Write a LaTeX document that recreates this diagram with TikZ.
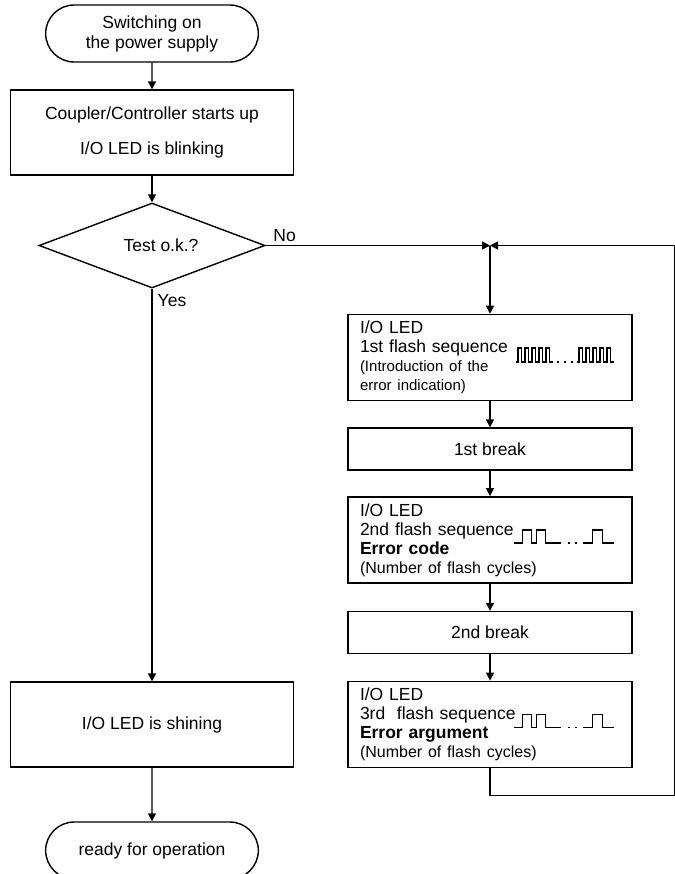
\documentclass[tikz,border=0pt]{standalone}
\usepackage{fontspec}
\setmainfont{Liberation Sans}
\usepackage{tikz}
\usetikzlibrary{positioning,shapes.geometric,shapes.misc,arrows.meta}
\newcommand{\mainf}{\fontsize{8.75pt}{10pt}\selectfont}
\newcommand{\ledf}{\fontsize{8.75pt}{9.5pt}\selectfont}
\newcommand{\smallf}{\fontsize{7.5pt}{9.5pt}\selectfont}
\newcommand{\numf}{\fontsize{8pt}{9.5pt}\selectfont}
\tikzstyle{term}=[draw, rounded rectangle, minimum width=113pt, minimum height=28.5pt, align=center, font=\mainf]
\tikzstyle{blk}=[draw, minimum width=141.5pt, minimum height=42.5pt, align=center, font=\mainf]
\tikzstyle{dec}=[draw, diamond, aspect=2.66, minimum width=113pt, minimum height=42.5pt, inner sep=0pt, font=\mainf]
\tikzstyle{brk}=[draw, minimum width=142pt, minimum height=21pt, font=\mainf]
\tikzstyle{led}=[draw, text width=130pt, inner xsep=6pt, minimum height=42.5pt, align=left, font=\ledf]
\tikzstyle{lbl}=[inner sep=0pt, font=\mainf]

\begin{document}
\begin{tikzpicture}[node distance=2cm,line width=0.7pt,>={Triangle[length=4pt,width=4pt]}]
\useasboundingbox (-76pt,16.75pt) rectangle (261.5pt,-420.25pt);

  \node[term] at (0,0) (start) {Switching on\\the power supply};
  \node[blk, below of = start, node distance = 49.5pt] (cpl) {Coupler/Controller starts up\\[7.5pt]I/O LED is blinking};
\draw[->] (start) -- (cpl);

  \node[dec, below of = cpl, node distance = 56.5pt] (test) {\hspace*{9pt}Test o.k.?};
\draw[->] (cpl) -- (test);

\node[lbl, anchor=south west] (no) at ([xshift=3.5pt,yshift=1.75pt]test.east) {No};
\node[lbl, anchor=north west] (yes) at ([xshift=2.5pt,yshift=-2.5pt]test.south) {Yes};

\node[blk, below of = test, node distance = 239.5pt] (shine) {I/O LED is shining};
\draw[->] (test) -- (shine);
\node[term, below of = shine, node distance = 63pt] (ready) {ready for operation};
\draw[->] (shine) -- (ready);

% error loop
\coordinate[right of = test, node distance = 169pt] (junc);
\coordinate[right of = junc, node distance = 92.4pt] (edge);
\draw[->] (test) -- (junc);

\node[led, below of = junc, node distance = 56pt] (flash1) {I/O LED\\1st flash sequence\\{\smallf (Introduction of the}\\{\smallf error indication)}};
\draw[->] (junc) -- (flash1);
\draw ([xshift=84.5pt,yshift=-2.25pt]flash1.west) -- ++(0.75pt,0) foreach \p in {1,...,5} {-- ++(0,7pt) -- ++(1.75pt,0) -- ++(0,-7pt) -- ++(1.75pt,0)};
\draw[dash pattern=on 1pt off 2.5pt] ([xshift=104.75pt,yshift=-2.25pt]flash1.west) -- ++(8.5pt,0);
\draw ([xshift=115pt,yshift=-2.25pt]flash1.west) -- ++(0.75pt,0) foreach \p in {1,...,5} {-- ++(0,7pt) -- ++(1.75pt,0) -- ++(0,-7pt) -- ++(1.75pt,0)};

\node[brk, below of = flash1, node distance = 45.75pt] (brk1) {1st break};
\draw[->] (flash1) -- (brk1);

\node[led, below of = brk1, node distance = 45.5pt] (flash2) {I/O LED\\2nd flash sequence\\\textbf{Error code}\\{\numf (Number of flash cycles)}};
\draw[->] (brk1) -- (flash2);
\draw ([xshift=83.5pt,yshift=-1.5pt]flash2.west) -- ++(4pt,0) -- ++(0,6.5pt) -- ++(4.5pt,0) -- ++(0,-6.5pt) -- ++(2.5pt,0) -- ++(0,6.5pt) -- ++(4.5pt,0) -- ++(0,-6.5pt) -- ++(8pt,0);
\draw[dash pattern=on 1pt off 2.5pt] ([xshift=110.5pt,yshift=-1.5pt]flash2.west) -- ++(4.5pt,0);
\draw ([xshift=118pt,yshift=-1.5pt]flash2.west) -- ++(4.5pt,0) -- ++(0,6.5pt) -- ++(5pt,0) -- ++(0,-6.5pt) -- ++(6pt,0);

\node[brk, below of = flash2, node distance = 46.25pt] (brk2) {2nd break};
\draw[->] (flash2) -- (brk2);

\node[led, below of = brk2, node distance = 46pt] (flash3) {I/O LED\\3rd~ flash sequence\\\textbf{Error argument}\\{\numf (Number of flash cycles)}};
\draw[->] (brk2) -- (flash3);
\draw ([xshift=83.5pt,yshift=-1.5pt]flash3.west) -- ++(4pt,0) -- ++(0,6.5pt) -- ++(4.5pt,0) -- ++(0,-6.5pt) -- ++(2.5pt,0) -- ++(0,6.5pt) -- ++(4.5pt,0) -- ++(0,-6.5pt) -- ++(8pt,0);
\draw[dash pattern=on 1pt off 2.5pt] ([xshift=110.5pt,yshift=-1.5pt]flash3.west) -- ++(4.5pt,0);
\draw ([xshift=118pt,yshift=-1.5pt]flash3.west) -- ++(4.5pt,0) -- ++(0,6.5pt) -- ++(5pt,0) -- ++(0,-6.5pt) -- ++(6pt,0);

\draw[->] (flash3.south) -- +(0,-13.5pt) -| (edge) -- (junc);
\end{tikzpicture}
\end{document}
